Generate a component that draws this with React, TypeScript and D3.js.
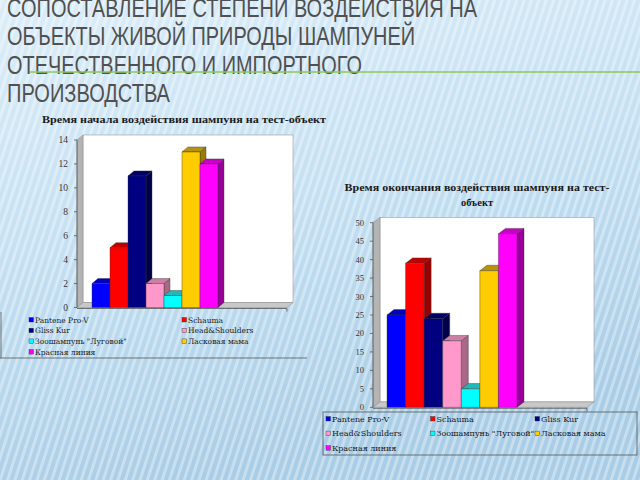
import React from 'react';
import * as d3 from 'd3';

// series (one category, seven shampoos)
const brands = ['Pantene Pro-V', 'Schauma', 'Gliss Kur', 'Head&Shoulders', 'Зоошампунь "Луговой"', 'Ласковая мама', 'Красная линия'];
const startTimes = [2, 5, 11, 2, 1, 13, 12];
const endTimes = [25, 39, 24, 18, 5, 37, 47];
const startTicks = [0, 2, 4, 6, 8, 10, 12, 14];
const endTicks = [0, 5, 10, 15, 20, 25, 30, 35, 40, 45, 50];

const titleLines = ['СОПОСТАВЛЕНИЕ СТЕПЕНИ ВОЗДЕЙСТВИЯ НА', 'ОБЪЕКТЫ ЖИВОЙ ПРИРОДЫ ШАМПУНЕЙ', 'ОТЕЧЕСТВЕННОГО И ИМПОРТНОГО', 'ПРОИЗВОДСТВА'];
const titleWidths = [470, 408, 355, 163];

const front = ['#0000ff', '#ff0000', '#000080', '#ff99cc', '#00ffff', '#ffcc00', '#ff00ff'];
const side = ['#00007a', '#990000', '#00004a', '#a86886', '#009a9a', '#9a7a00', '#990099'];
const top = ['#0000c0', '#c00000', '#000066', '#cc7fa3', '#20b8b8', '#b8920c', '#c800c8'];

type ChartCfg = {
  values: number[];
  ticks: number[];
  axisX: number;
  rightX: number;
  y0: number;
  y1: number;
  barsX: [number, number];
  dx: number;
  dy: number;
  fontSize: number;
};

const Chart3D = ({ c }: { c: ChartCfg }) => {
  const max = c.ticks[c.ticks.length - 1];
  const y = d3.scaleLinear().domain([0, max]).range([c.y0, c.y1]);
  const x = d3.scaleBand().domain(brands).range(c.barsX).padding(0);
  const w = x.bandwidth();
  const { dx, dy } = c;
  const pts = (a: number[][]) => a.map(p => p.join(',')).join(' ');
  return (
    <g>
      {/* walls */}
      <rect x={c.axisX + dx} y={c.y1 + dy} width={c.rightX - c.axisX} height={c.y0 - c.y1} fill="#ffffff" stroke="#9a9a9a" strokeWidth={0.6} />
      <polygon points={pts([[c.axisX, c.y1], [c.axisX + dx, c.y1 + dy], [c.axisX + dx, c.y0 + dy], [c.axisX, c.y0]])} fill="#b4b4b4" stroke="#8a8a8a" strokeWidth={0.5} />
      <polygon points={pts([[c.axisX, c.y0], [c.axisX + dx, c.y0 + dy], [c.rightX + dx, c.y0 + dy], [c.rightX, c.y0]])} fill="#c8c8c8" stroke="#8a8a8a" strokeWidth={0.5} />
      {/* bars */}
      {c.values.map((v, i) => {
        const bx = x(brands[i]) as number;
        const by = y(v);
        return (
          <g key={i} stroke="#333" strokeWidth={0.4} strokeLinejoin="round">
            <polygon points={pts([[bx + w, by], [bx + w + dx, by + dy], [bx + w + dx, c.y0 + dy], [bx + w, c.y0]])} fill={side[i]} />
            <polygon points={pts([[bx, by], [bx + dx, by + dy], [bx + w + dx, by + dy], [bx + w, by]])} fill={top[i]} />
            <rect x={bx} y={by} width={w} height={c.y0 - by} fill={front[i]} />
          </g>
        );
      })}
      {/* axes */}
      <line x1={c.axisX} x2={c.axisX} y1={c.y0} y2={c.y1} stroke="#555" strokeWidth={0.8} />
      <line x1={c.axisX} x2={c.rightX} y1={c.y0 + 1} y2={c.y0 + 1} stroke="#555" strokeWidth={0.8} />
      <line x1={c.rightX} x2={c.rightX} y1={c.y0 + 1} y2={c.y0 + 4} stroke="#555" strokeWidth={0.8} />
      {c.ticks.map(t => (
        <g key={t}>
          <line x1={c.axisX - 3} x2={c.axisX} y1={y(t)} y2={y(t)} stroke="#555" strokeWidth={0.8} />
          <text x={c.axisX - 9} y={y(t)} dy="0.35em" textAnchor="end" fontSize={c.fontSize} fill="#333" fontFamily="Liberation Serif, serif">{t}</text>
        </g>
      ))}
    </g>
  );
};

const Legend = ({ cols, x0, colStep, y0, rowStep, fontSize }: { cols: number; x0: number; colStep: number; y0: number; rowStep: number; fontSize: number }) => (
  <g fontFamily="DejaVu Serif, serif" fontSize={fontSize} fill="#1a1a1a">
    {brands.map((b, i) => {
      const cx = x0 + (i % cols) * colStep;
      const cy = y0 + Math.floor(i / cols) * rowStep;
      return (
        <g key={b}>
          <rect x={cx} y={cy - 2.5} width={4.5} height={4.5} fill={front[i]} stroke="#333" strokeWidth={0.4} />
          <text x={cx + 6} y={cy} dy="0.35em">{b}</text>
        </g>
      );
    })}
  </g>
);

const left: ChartCfg = { values: startTimes, ticks: startTicks, axisX: 77, rightX: 287, y0: 307.5, y1: 140, barsX: [92, 218], dx: 6, dy: -5, fontSize: 9.5 };
const right: ChartCfg = { values: endTimes, ticks: endTicks, axisX: 373, rightX: 587, y0: 407.3, y1: 222.7, barsX: [387, 517], dx: 7, dy: -5.4, fontSize: 8.5 };

export default function App() {
  return (
    <svg width={640} height={480} style={{ position: 'fixed', left: 0, top: 0 }}>
      <defs>
        <linearGradient id="bg" x1="0" y1="0" x2="0.3" y2="1">
          <stop offset="0" stopColor="#dcedf8" />
          <stop offset="0.5" stopColor="#c4e0f2" />
          <stop offset="1" stopColor="#a9cde6" />
        </linearGradient>
        <pattern id="stripes" width={7} height={7} patternUnits="userSpaceOnUse" patternTransform="rotate(18)">
          <rect width={3} height={7} fill="#ffffff" opacity={0.35} />
        </pattern>
      </defs>
      <rect width={640} height={480} fill="url(#bg)" />
      <rect width={640} height={480} fill="url(#stripes)" />

      {/* slide title, first line runs off the top as in the slide */}
      <g fontFamily="Liberation Sans Narrow, Arial Narrow, Liberation Sans, sans-serif" fontSize={26} fill="#505050">
        {titleLines.map((t, i) => (
          <text key={i} x={7} y={16.5 + i * 28.5} textLength={titleWidths[i]} lengthAdjust="spacingAndGlyphs">{t}</text>
        ))}
      </g>
      <line x1={30} x2={640} y1={72} y2={72} stroke="#8cc85a" strokeWidth={1.5} />

      {/* left chart */}
      <text x={184} y={123} textAnchor="middle" fontFamily="Liberation Serif, serif" fontWeight="bold" fontSize={10.5} fill="#1a1a1a" textLength={284} lengthAdjust="spacingAndGlyphs">Время начала воздействия шампуня на тест-объект</text>
      <Chart3D c={left} />
      <Legend cols={2} x0={29} colStep={153} y0={320} rowStep={10.7} fontSize={7.5} />
      <line x1={1} x2={1} y1={312} y2={358} stroke="#555" strokeWidth={0.8} />
      <line x1={0} x2={307} y1={358} y2={358} stroke="#555" strokeWidth={0.8} />

      {/* right chart */}
      <text x={477} y={191} textAnchor="middle" fontFamily="Liberation Serif, serif" fontWeight="bold" fontSize={10.5} fill="#1a1a1a" textLength={265} lengthAdjust="spacingAndGlyphs">Время окончания воздействия шампуня на тест-</text>
      <text x={477} y={206} textAnchor="middle" fontFamily="Liberation Serif, serif" fontWeight="bold" fontSize={10.5} fill="#1a1a1a">объект</text>
      <Chart3D c={right} />
      <rect x={323} y={412} width={314} height={43} fill="none" stroke="#555" strokeWidth={0.8} />
      <Legend cols={3} x0={326} colStep={104.5} y0={419} rowStep={14.6} fontSize={8} />
    </svg>
  );
}
